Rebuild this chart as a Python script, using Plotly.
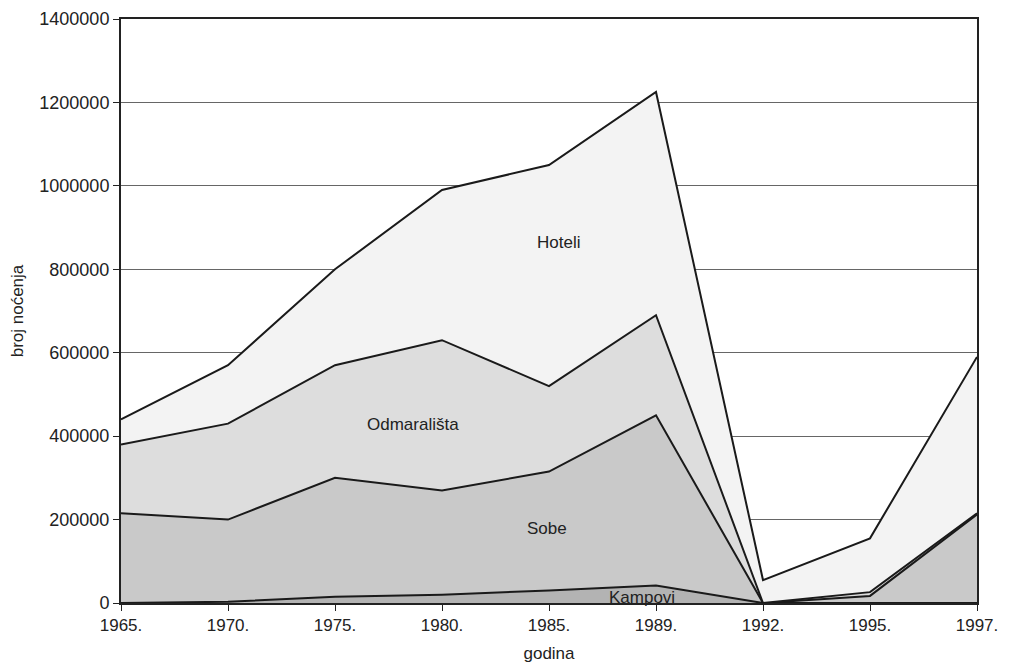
import plotly.graph_objects as go

years = ["1965.", "1970.", "1975.", "1980.", "1985.", "1989.", "1992.", "1995.", "1997."]
kampovi = [0, 3000, 15000, 20000, 30000, 42000, 0, 0, 0]
sobe = [215000, 197000, 285000, 250000, 285000, 408000, 0, 17000, 212000]
odmaralista = [165000, 230000, 270000, 360000, 205000, 240000, 0, 9000, 3000]
hoteli = [60000, 140000, 230000, 360000, 530000, 535000, 55000, 129000, 375000]

y_ticks = [0, 200000, 400000, 600000, 800000, 1000000, 1200000, 1400000]

xs = list(range(len(years)))
FONT = "Liberation Sans, Arial, sans-serif"

series = [
    ("Kampovi", kampovi, "#b3b3b3"),
    ("Sobe", sobe, "#c9c9c9"),
    ("Odmarališta", odmaralista, "#dddddd"),
    ("Hoteli", hoteli, "#f3f3f3"),
]

fig = go.Figure()
for name, vals, col in series:
    fig.add_trace(go.Scatter(
        x=xs, y=vals, name=name, mode="lines", stackgroup="one",
        line=dict(color="#1a1a1a", width=2), fillcolor=col,
        hoverinfo="skip", showlegend=False,
    ))

labels = [
    ("Hoteli", 4.09, 865000),
    ("Odmarališta", 2.73, 427000),
    ("Sobe", 3.98, 178000),
    ("Kampovi", 4.87, 12000),
]
for text, x, y in labels:
    fig.add_annotation(x=x, y=y, text=text, showarrow=False,
                       font=dict(family=FONT, size=17, color="#222"))

# page body has an 8px margin; size the figure so the plot lands where the reference's does
fig.update_layout(
    width=1001, height=655,
    margin=dict(l=113, r=32, t=11, b=60),
    paper_bgcolor="white", plot_bgcolor="white",
    font=dict(family=FONT, size=17, color="#222"),
)
fig.update_xaxes(
    range=[0, len(years) - 1], tickvals=xs, ticktext=years,
    showgrid=False, zeroline=False, automargin=False,
    showline=True, linecolor="#222", linewidth=2, mirror=True,
    ticks="outside", ticklen=6, tickcolor="#222",
    tickfont=dict(size=17),
    title=dict(text="godina", font=dict(size=17), standoff=14),
)
fig.update_yaxes(
    range=[0, 1400000], tickvals=y_ticks, tickformat="d",
    showgrid=True, gridcolor="#666", gridwidth=1, zeroline=False, automargin=False,
    showline=True, linecolor="#222", linewidth=2, mirror=True,
    ticks="outside", ticklen=6, tickcolor="#222",
    tickfont=dict(size=18),
    title=dict(text="broj noćenja", font=dict(size=17), standoff=12),
)

fig.write_html("out.html")
